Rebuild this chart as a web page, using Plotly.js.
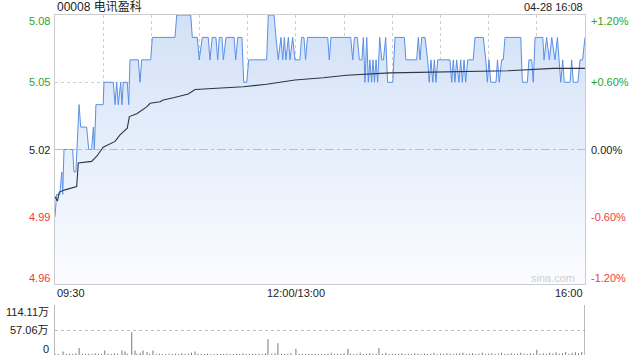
<!DOCTYPE html>
<html><head><meta charset="utf-8">
<script src="https://cdn.plot.ly/plotly-3.0.1.min.js"></script>
<style>html,body{margin:0;padding:0;background:#fff}#chart{width:640px;height:360px}</style>
</head><body><div id="chart"></div>
<script>
// minutes since 09:30 on a continuous trading-time scale (lunch removed)
const priceT = [0,1,3,4.2,4.8,5.6,11,11.8,13,15,16,19.7,21,22.8,23.9,24.5,25.5,30,30.5,36.3,37.4,38.4,39.4,40.9,41.7,42.5,45,45.9,46.7,51.9,52.9,54,59.6,60.6,74.7,75.8,84.5,85.5,88.6,89.8,91.7,95.4,96.5,97.9,100.2,101.3,102.3,104,104.8,106.5,111.5,112.5,113.8,116.4,117.5,119.4,120.6,131.8,132.8,136.4,137.6,139,140.7,141.8,142.8,143.8,145.3,146.3,148,149.4,152.5,153.5,155,156,157.2,169.8,170.8,171.8,184.1,185.4,186.4,188.2,189.5,191.1,192,193,194.1,195.1,196.1,197.1,198,198.9,199.9,200.9,202.2,203.4,204.5,205.9,207.1,210.3,211.7,217.5,218.5,225.2,226.2,227.3,228.3,230.4,232,233,234.1,235.2,236.2,237.2,238.3,245.9,247,248,249,250.1,251.5,252.6,253.6,254.7,255.7,257,260.4,261.5,266.7,268.2,269.2,270.2,271.3,274.6,275.5,276.6,278.1,279.1,280.2,290,291,294.1,295.1,296.8,297.8,298.9,303.7,304.5,306.1,307.8,309.3,311.3,312.8,314.9,316.1,317.1,320.7,321.7,322.7,325.6,326.9,328.5,330];
const priceV = [4.99,5.00,5.00,5.01,5.00,5.02,5.02,5.01,5.01,5.04,5.03,5.03,5.02,5.02,5.03,5.02,5.04,5.04,5.05,5.05,5.04,5.05,5.04,5.05,5.04,5.05,5.05,5.04,5.06,5.06,5.05,5.06,5.06,5.07,5.07,5.08,5.08,5.07,5.07,5.06,5.07,5.07,5.06,5.07,5.07,5.06,5.07,5.07,5.06,5.07,5.07,5.06,5.07,5.07,5.05,5.05,5.06,5.06,5.08,5.08,5.07,5.06,5.07,5.06,5.07,5.06,5.07,5.06,5.07,5.06,5.06,5.07,5.07,5.06,5.07,5.07,5.06,5.07,5.07,5.06,5.07,5.07,5.06,5.06,5.07,5.05,5.07,5.05,5.06,5.05,5.06,5.05,5.06,5.05,5.07,5.06,5.06,5.07,5.05,5.05,5.07,5.07,5.06,5.06,5.07,5.06,5.07,5.07,5.06,5.05,5.06,5.05,5.06,5.05,5.06,5.06,5.05,5.06,5.05,5.06,5.05,5.06,5.05,5.06,5.05,5.06,5.06,5.07,5.07,5.06,5.05,5.06,5.05,5.05,5.06,5.05,5.06,5.06,5.07,5.07,5.05,5.05,5.06,5.06,5.05,5.07,5.07,5.06,5.07,5.06,5.07,5.06,5.07,5.05,5.06,5.05,5.05,5.06,5.05,5.05,5.06,5.06,5.07];

const avgT = [0,1.5,2.7,6.2,13.5,14.5,22.8,26,30,37.4,40.5,45,46.3,50.9,57.1,59.2,65.4,67.4,73.7,77.8,83,87.2,117.2,131.8,138,149.4,167,181.6,208.6,282.2,310.3,330];
const avgV = [4.999,4.997,5.001,5.002,5.0035,5.014,5.0147,5.017,5.021,5.0236,5.0265,5.0295,5.0347,5.036,5.039,5.0406,5.0413,5.0421,5.0431,5.044,5.0448,5.0468,5.048,5.0491,5.0498,5.051,5.052,5.0531,5.0542,5.0551,5.0562,5.0562];

const volT = [0,2,5,7,9,11,13,15,17,19,21,23,25,27,29,31,33,35,37,39,41.7,43.6,45,47.8,49.8,51,53,54.8,57.3,59,61,63,65,67,69,71,73,75,77,79,81,83,85,87.2,89,91,93,95,97,99,101,103,105,107,109,111,113,115,117,119,121,123,125,127,129,131,132.6,135,137,138.8,141,143,145,147,150,152,154,156,158,160,162,164,166,168,170,172,174,176,178,180,182.4,184,186,188,190,192,194,196,198,200,201.7,204,206,208,210,212,214,216,218,220,222,224,226,228,230,232,234,236,238,240,242,244,246,248,250,252,254,256,258,260,262,264,266,268,270,272,274,276,278,280,282,284,286,288,290,292,294,296,298,300,302,304,306,308,310,312,314,316,318,320,322,324,326,328,330];
const volV = [3,2,8,2,3,2,4,16,3,2,3,2,4,3,2,10,3,2,4,3,10,8,3,52,10,3,5,10,7,3,10,2,3,2,2,3,2,3,2,4,2,3,5,8,3,2,2,3,2,2,3,2,2,3,2,2,3,2,4,2,3,2,2,3,2,4,36,3,4,27,3,2,3,4,14,2,3,2,3,2,3,2,3,2,3,5,2,3,2,4,14,3,2,3,5,2,3,4,3,2,16,3,5,2,3,2,3,4,2,3,2,4,3,2,3,2,3,5,2,3,2,4,3,2,3,4,5,2,3,4,2,3,5,2,3,4,2,3,5,2,3,4,2,3,5,3,2,4,3,12,3,4,2,5,3,6,3,4,7,3,5,6,4,7,114.11];

const prevClose = 5.02;
const leftTicks = [5.08,5.05,5.02,4.99,4.96];
const rightTicks = ['+1.20%','+0.60%','0.00%','-0.60%','-1.20%'];
const timeTicks = [0,30,60,90,120,150,180,210,240,270,300,330];
const timeLabels = ['09:30','12:00/13:00','16:00'];
const timeLabelPos = [0,150,330];
const volTicks = [114.11,57.06,0];
const volLabels = ['114.11万','57.06万','0'];

const GREEN='#2aa52a', RED='#f23c3c', BLACK='#222';
const FONT='Arial, "Liberation Sans", "Noto Sans CJK SC", sans-serif';
function col(v){return v>prevClose+1e-9?GREEN:(v<prevClose-1e-9?RED:BLACK);}

const traces = [
 {x:priceT,y:priceV,type:'scatter',mode:'lines',line:{color:'#5a8fe6',width:1},
  fill:'tozeroy',fillgradient:{type:'vertical',start:4.96,stop:5.08,colorscale:[[0,'#fbfcff'],[1,'#d2e1f7']]},
  xaxis:'x',yaxis:'y',hoverinfo:'skip'},
 {x:avgT,y:avgV,type:'scatter',mode:'lines',line:{color:'#2e3640',width:1.1},xaxis:'x',yaxis:'y',hoverinfo:'skip'},
 {x:volT,y:volV,type:'bar',marker:{color:'#666',line:{width:0}},width:0.55,xaxis:'x2',yaxis:'y2',hoverinfo:'skip'}
];

const ann = [];
ann.push({xref:'paper',yref:'paper',x:0,y:1,yshift:8,xanchor:'left',yanchor:'middle',text:'00008 电讯盈科',showarrow:false,font:{family:FONT,size:12,color:'#222'}});
ann.push({xref:'paper',yref:'paper',x:1,y:1,yshift:8,xanchor:'right',yanchor:'middle',text:'04-28 16:08',showarrow:false,font:{family:FONT,size:11,color:'#222'}});
leftTicks.forEach((v,i)=>{
  const ys = i===0?-6:(i===leftTicks.length-1?6:0);
  ann.push({xref:'paper',yref:'y',x:0,y:v,xanchor:'right',yanchor:'middle',xshift:-3,yshift:ys,text:v.toFixed(2),showarrow:false,font:{family:FONT,size:11,color:col(v)}});
  ann.push({xref:'paper',yref:'y',x:1,y:v,xanchor:'left',yanchor:'middle',xshift:4,yshift:ys,text:rightTicks[i],showarrow:false,font:{family:FONT,size:11,color:col(v)}});
});
timeLabels.forEach((t,i)=>{
  const p=timeLabelPos[i];
  ann.push({xref:'x',yref:'paper',x:p,y:0.2088,yshift:-9,xanchor:p===0?'left':(p===330?'right':'center'),yanchor:'middle',text:t,showarrow:false,font:{family:FONT,size:11,color:'#222'}});
});
volTicks.forEach((v,i)=>{
  const ys = i===0?-7:(i===volTicks.length-1?6:0);
  ann.push({xref:'paper',yref:'y2',x:0,y:v,xanchor:'right',yanchor:'middle',xshift:-4,yshift:ys,text:volLabels[i],showarrow:false,font:{family:FONT,size:11,color:'#222'}});
});
ann.push({xref:'x',yref:'y',x:310,y:4.96,yshift:6,xanchor:'center',yanchor:'middle',text:'sina.com',showarrow:false,font:{family:FONT,size:11,color:'#cfcfcf'}});

const layout = {
  width:640,height:360,margin:{l:55,r:55,t:15,b:5},
  paper_bgcolor:'#fff',plot_bgcolor:'rgba(0,0,0,0)',showlegend:false,
  xaxis:{domain:[0,1],range:[0,330],tickvals:timeTicks,showticklabels:false,ticks:'',showgrid:true,gridcolor:'#cfcfcf',griddash:'dot',gridwidth:1,
         showline:true,mirror:true,linecolor:'#cccccc',linewidth:1,zeroline:false,fixedrange:true,anchor:'y'},
  yaxis:{domain:[0.2088,1],range:[4.96,5.08],tickvals:[4.99,5.05],showticklabels:false,ticks:'',showgrid:true,gridcolor:'#cfcfcf',griddash:'dot',
         showline:true,mirror:true,linecolor:'#cccccc',linewidth:1,zeroline:false,anchor:'x'},
  xaxis2:{domain:[0,1],range:[0,330],showticklabels:false,ticks:'',showgrid:false,showline:false,zeroline:false,anchor:'y2'},
  yaxis2:{domain:[0,0.147],range:[0,114.11],tickvals:[57.06,114.11],showticklabels:false,ticks:'',showgrid:true,gridcolor:'#bdbdbd',griddash:'dot',
          showline:true,linecolor:'#bbbbbb',linewidth:1,zeroline:false,anchor:'x2'},
  shapes:[{type:'line',xref:'paper',yref:'y',x0:0,x1:1,y0:prevClose,y1:prevClose,line:{color:'#bdbdbd',width:1,dash:'dashdot'}}],
  annotations:ann
};
Plotly.newPlot('chart',traces,layout,{staticPlot:true,displayModeBar:false});
</script></body></html>
